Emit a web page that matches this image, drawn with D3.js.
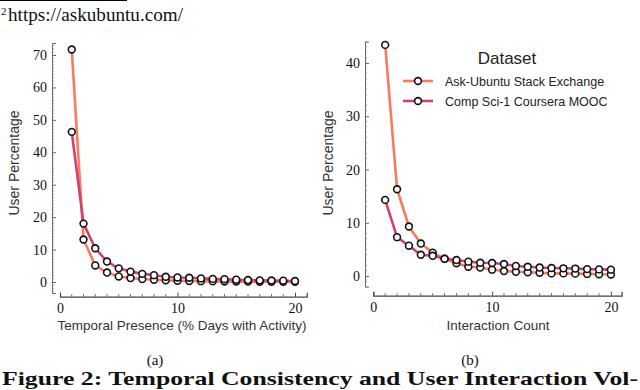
<!DOCTYPE html>
<html><head><meta charset="utf-8">
<script src="https://cdn.jsdelivr.net/npm/d3@7"></script>
<style>
html,body{margin:0;padding:0;background:#fff;}
svg{display:block;}
</style></head>
<body>
<svg id="c" width="640" height="390"></svg>
<script>
// ---- data ----
const xValues = d3.range(1, 21);
const seriesNames = ["Ask-Ubuntu Stack Exchange", "Comp Sci-1 Coursera MOOC"];
const presenceAskUbuntu = [71.7, 13.1, 5.1, 2.9, 1.7, 1.2, 0.9, 0.7, 0.5, 0.4, 0.3, 0.25, 0.2, 0.15, 0.12, 0.1, 0.08, 0.06, 0.05, 0.04];
const presenceCompSci  = [46.3, 18.0, 10.4, 6.3, 4.2, 3.2, 2.5, 2.1, 1.6, 1.4, 1.3, 1.1, 0.95, 0.85, 0.7, 0.6, 0.5, 0.45, 0.4, 0.3];
const countAskUbuntu = [43.4, 16.3, 9.3, 6.1, 4.4, 3.25, 2.4, 1.75, 1.6, 1.2, 0.94, 0.8, 0.7, 0.62, 0.5, 0.5, 0.45, 0.4, 0.35, 0.3];
const countCompSci   = [14.3, 7.3, 5.7, 4.0, 3.8, 3.25, 3.0, 2.7, 2.5, 2.45, 2.25, 1.9, 1.75, 1.6, 1.5, 1.45, 1.4, 1.3, 1.25, 1.2];
const xTicks = [0, 10, 20];
const yTicksA = [0, 10, 20, 30, 40, 50, 60, 70];
const yTicksB = [0, 10, 20, 30, 40];
const colors = ["#fa7b5c", "#d1436e"];

const svg = d3.select("#c");
const serif = "'Liberation Serif', 'DejaVu Serif', serif";
const sans = "'Liberation Sans', 'DejaVu Sans', sans-serif";

// header
svg.append("line").attr("x1", 0).attr("x2", 127).attr("y1", 0.5).attr("y2", 0.5).attr("stroke", "#000").attr("stroke-width", 1);
svg.append("text").attr("x", 1).attr("y", 15).attr("font-family", serif).attr("font-size", 11).attr("fill", "#111").text("2");
svg.append("text").attr("x", 8).attr("y", 21).attr("font-family", serif).attr("font-size", 18).attr("fill", "#111")
  .attr("textLength", 175).attr("lengthAdjust", "spacingAndGlyphs").text("https://askubuntu.com/");

function panel(cfg) {
  const x = d3.scaleLinear().domain(cfg.xDom).range(cfg.xRange);
  const y = d3.scaleLinear().domain(cfg.yDom).range(cfg.yRange);
  const g = svg.append("g");
  // y axis
  const ya = g.append("g").attr("transform", `translate(${cfg.yAxisX},0)`)
    .call(d3.axisLeft(y).tickValues(cfg.yTicks).tickSize(-4).tickPadding(5).tickFormat(d3.format("d")));
  ya.attr("font-family", serif).attr("font-size", 14);
  ya.select(".domain").attr("stroke", "#666").attr("stroke-width", 1);
  ya.selectAll(".tick line").attr("stroke", "#666");
  ya.selectAll(".tick text").attr("font-family", serif).attr("font-size", 14).attr("fill", "#111");
  const minorY = d3.range(Math.ceil(cfg.yDom[0]), Math.floor(cfg.yDom[1]) + 1).filter(v => !cfg.yTicks.includes(v));
  ya.selectAll(".minor").data(minorY).join("line").attr("class", "minor")
    .attr("x1", 0).attr("x2", 2).attr("y1", d => y(d)).attr("y2", d => y(d)).attr("stroke", "#888").attr("stroke-width", 0.8);
  // x axis
  const xa = g.append("g").attr("transform", `translate(0,${cfg.xAxisY})`)
    .call(d3.axisBottom(x).tickValues(xTicks).tickSize(-4).tickPadding(6).tickFormat(d3.format("d")));
  xa.attr("font-family", serif).attr("font-size", 14);
  xa.select(".domain").attr("stroke", "#444").attr("stroke-width", 1.2);
  xa.selectAll(".tick line").attr("stroke", "#444");
  xa.selectAll(".tick text").attr("font-family", serif).attr("font-size", 14).attr("fill", "#111");
  const minorX = d3.range(1, 21).filter(v => !xTicks.includes(v));
  xa.selectAll(".minor").data(minorX).join("line").attr("class", "minor")
    .attr("x1", d => x(d)).attr("x2", d => x(d)).attr("y1", 0).attr("y2", -2.5).attr("stroke", "#444").attr("stroke-width", 0.8);
  // labels
  g.append("text").attr("transform", `translate(${cfg.yLabelX},${cfg.yLabelY}) rotate(-90)`)
    .attr("text-anchor", "middle").attr("font-family", sans).attr("font-size", 14).attr("fill", "#333").text("User Percentage");
  g.append("text").attr("x", cfg.xLabelX).attr("y", 330).attr("text-anchor", "middle")
    .attr("font-family", sans).attr("font-size", 13.5).attr("fill", "#333").text(cfg.xLabel);
  // series
  const line = d3.line().x((d, i) => x(xValues[i])).y(d => y(d));
  cfg.series.forEach((s, k) => {
    g.append("path").datum(s).attr("d", line).attr("fill", "none").attr("stroke", colors[k]).attr("stroke-width", 2.6).attr("stroke-linejoin", "round");
  });
  cfg.series.forEach((s, k) => {
    g.selectAll(null).data(s).join("circle").attr("cx", (d, i) => x(xValues[i])).attr("cy", d => y(d))
      .attr("r", 3.4).attr("fill", "#fff").attr("stroke", "#111").attr("stroke-width", 1.6);
  });
  return g;
}

panel({
  xDom: [0, 21], xRange: [60, 306.75], yDom: [-3.4, 73.7], yRange: [293, 43],
  yAxisX: 52, xAxisY: 296.7, yTicks: yTicksA, yLabelX: 19, yLabelY: 163,
  xLabelX: 182, xLabel: "Temporal Presence (% Days with Activity)",
  series: [presenceAskUbuntu, presenceCompSci]
});
panel({
  xDom: [0, 20.9], xRange: [373.3, 621.6], yDom: [-2, 44], yRange: [286.7, 41.7],
  yAxisX: 365, xAxisY: 295.7, yTicks: yTicksB, yLabelX: 333, yLabelY: 163,
  xLabelX: 498, xLabel: "Interaction Count",
  series: [countAskUbuntu, countCompSci]
});

// legend
const lg = svg.append("g");
lg.append("text").attr("x", 507).attr("y", 64).attr("text-anchor", "middle").attr("font-family", sans).attr("font-size", 17).attr("fill", "#222").text("Dataset");
seriesNames.forEach((name, k) => {
  const yy = 81 + k * 20;
  lg.append("line").attr("x1", 403).attr("x2", 433).attr("y1", yy).attr("y2", yy).attr("stroke", colors[k]).attr("stroke-width", 2.6);
  lg.append("circle").attr("cx", 418).attr("cy", yy).attr("r", 3.4).attr("fill", "#fff").attr("stroke", "#111").attr("stroke-width", 1.6);
  lg.append("text").attr("x", 445).attr("y", yy + 4.5).attr("font-family", sans).attr("font-size", 12.5).attr("fill", "#222").text(name);
});

// subcaptions
svg.append("text").attr("x", 155).attr("y", 365).attr("text-anchor", "middle").attr("font-family", serif).attr("font-size", 15).attr("fill", "#111").text("(a)");
svg.append("text").attr("x", 470).attr("y", 365).attr("text-anchor", "middle").attr("font-family", serif).attr("font-size", 15).attr("fill", "#111").text("(b)");
svg.append("text").attr("x", 2).attr("y", 385).attr("font-family", serif).attr("font-weight", "bold").attr("font-size", 19).attr("fill", "#111")
  .attr("textLength", 636).attr("lengthAdjust", "spacingAndGlyphs")
  .text("Figure 2: Temporal Consistency and User Interaction Vol-");
</script>
</body></html>
